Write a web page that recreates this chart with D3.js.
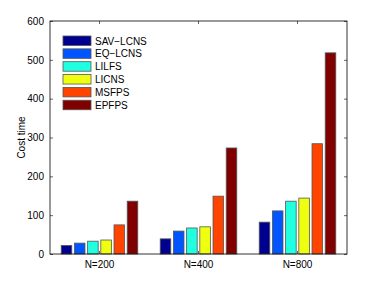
<!DOCTYPE html>
<html>
<head>
<meta charset="utf-8">
<script src="https://cdn.jsdelivr.net/npm/d3@7"></script>
<style>
  body { margin: 0; background: #fff; }
  text { font-family: "Liberation Sans", Arial, sans-serif; fill: #000; }
</style>
</head>
<body>
<div class="chart"></div>
<script>
const svgWidth = 382;
const svgHeight = 287;

// data
const groups = ["N=200", "N=400", "N=800"];
const methods = ["SAV\u2212LCNS", "EQ\u2212LCNS", "LILFS", "LICNS", "MSFPS", "EPFPS"];
const colors = ["#000090", "#0055ff", "#20ffdf", "#efff10", "#ff4400", "#800000"];
const values = [
    [22, 28, 33, 36, 75, 136],   // N=200
    [39, 59, 67, 70, 149, 273],  // N=400
    [82, 111, 136, 144, 284, 518] // N=800
];
const yTicks = [0, 100, 200, 300, 400, 500, 600];

const x0 = 50, x1 = 347, y0 = 21, y1 = 254;
const fs = "10px";

const svg = d3.select(".chart")
    .append("svg")
    .attr("width", svgWidth)
    .attr("height", svgHeight);

const x = d3.scaleBand().domain(groups).range([x0, x1]);
const xInner = d3.scaleBand()
    .domain(methods)
    .range([x.bandwidth() * 0.1, x.bandwidth() * 0.9])
    .paddingInner(0.2)
    .paddingOuter(0.1);
const y = d3.scaleLinear().domain([0, 600]).range([y1, y0]);

// bars
const g = svg.selectAll("g.grp")
    .data(groups)
    .join("g")
    .attr("class", "grp")
    .attr("transform", d => `translate(${x(d)},0)`);

g.selectAll("rect")
    .data((d, i) => values[i].map((v, j) => ({ m: methods[j], v: v, c: colors[j] })))
    .join("rect")
    .attr("x", d => xInner(d.m))
    .attr("y", d => y(d.v))
    .attr("width", xInner.bandwidth())
    .attr("height", d => y(0) - y(d.v))
    .attr("fill", d => d.c)
    .attr("stroke", "#555")
    .attr("stroke-width", 0.8);

// axes
const tickLen = 3;
svg.append("g")
    .attr("transform", `translate(${x0},0)`)
    .call(d3.axisLeft(y).tickValues(yTicks).tickSizeInner(-tickLen).tickSizeOuter(0).tickPadding(6))
    .call(a => a.select(".domain").remove())
    .call(a => a.selectAll("text").style("font-size", fs).style("font-family", "Liberation Sans, Arial, sans-serif"));
svg.append("g")
    .attr("transform", `translate(${x1},0)`)
    .call(d3.axisRight(y).tickValues(yTicks).tickSizeInner(-tickLen).tickSizeOuter(0).tickFormat(""))
    .call(a => a.select(".domain").remove());
svg.append("g")
    .attr("transform", `translate(0,${y1})`)
    .call(d3.axisBottom(x).tickSizeInner(-tickLen).tickSizeOuter(0).tickPadding(7))
    .call(a => a.select(".domain").remove())
    .call(a => a.selectAll("text").style("font-size", fs).style("font-family", "Liberation Sans, Arial, sans-serif"));
svg.append("g")
    .attr("transform", `translate(0,${y0})`)
    .call(d3.axisTop(x).tickSizeInner(-tickLen).tickSizeOuter(0).tickFormat(""))
    .call(a => a.select(".domain").remove());
svg.selectAll(".tick line").attr("stroke", "#000").attr("stroke-width", 0.6);

// box
svg.append("rect")
    .attr("x", x0).attr("y", y0)
    .attr("width", x1 - x0).attr("height", y1 - y0)
    .attr("fill", "none").attr("stroke", "#000").attr("stroke-width", 0.8);

// y label
svg.append("text")
    .attr("transform", `translate(25,${(y0 + y1) / 2}) rotate(-90)`)
    .attr("text-anchor", "middle")
    .style("font-size", fs)
    .text("Cost time");

// legend
const leg = svg.selectAll("g.leg")
    .data(methods)
    .join("g")
    .attr("class", "leg")
    .attr("transform", (d, i) => `translate(63,${36 + i * 12.85})`);
leg.append("rect")
    .attr("width", 28).attr("height", 9.5)
    .attr("fill", (d, i) => colors[i])
    .attr("stroke", "#555").attr("stroke-width", 0.8);
leg.append("text")
    .attr("x", 32).attr("y", 8.5)
    .style("font-size", fs)
    .text(d => d);
</script>
</body>
</html>
